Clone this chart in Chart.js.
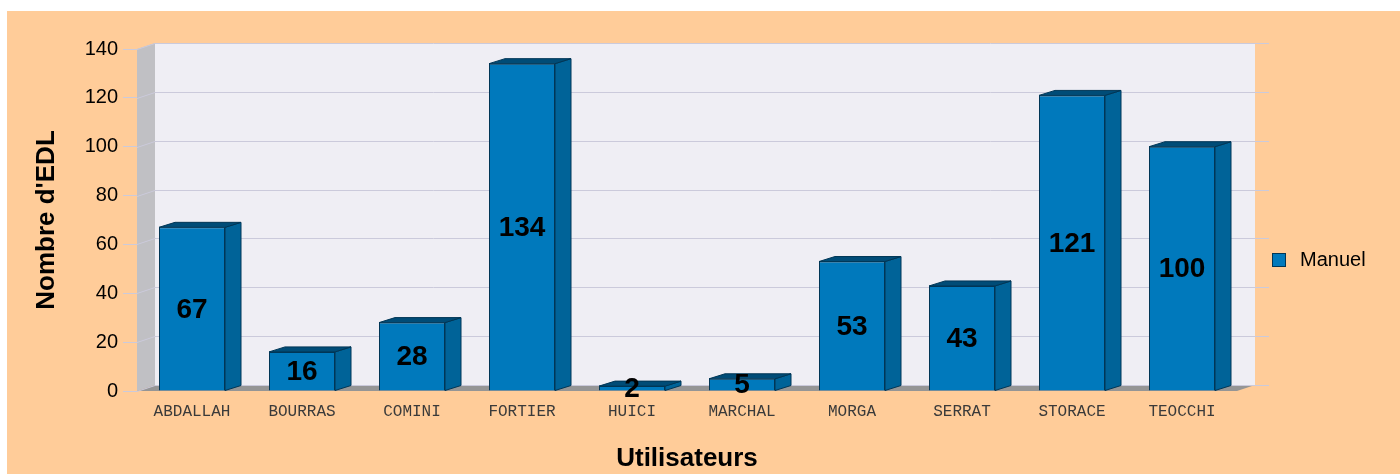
<!DOCTYPE html>
<html>
<head>
<meta charset="utf-8">
<script src="https://cdn.jsdelivr.net/npm/chart.js@4.4.0/dist/chart.umd.min.js"></script>
<style>
    body { margin: 0; background: #ffffff; }
</style>
</head>
<body>
<canvas id="edl-chart" width="1400" height="474"></canvas>
<script>
const users = ['ABDALLAH', 'BOURRAS', 'COMINI', 'FORTIER', 'HUICI', 'MARCHAL', 'MORGA', 'SERRAT', 'STORACE', 'TEOCCHI'];
const manuel = [67, 16, 28, 134, 2, 5, 53, 43, 121, 100];
const yTicks = [0, 20, 40, 60, 80, 100, 120, 140];

const barFront = '#0079bc';
const barSide = '#006398';
const barTop = '#004c77';
const barEdge = '#003656';

// 3D look: back wall and bars are shifted up-right
const wallDx = 18, wallDy = -6;
const barDx = 16, barDy = -5;

const pseudo3d = {
    id: 'pseudo3d',
    beforeDraw(chart) {
        const ctx = chart.ctx;
        ctx.save();
        ctx.fillStyle = '#ffcc99';
        ctx.fillRect(7, 11, chart.width - 7, chart.height - 11);
        ctx.restore();
    },
    beforeDatasetsDraw(chart) {
        const ctx = chart.ctx;
        const area = chart.chartArea;
        const y = chart.scales.y;
        const top = y.getPixelForValue(140);
        const bottom = y.getPixelForValue(0);
        ctx.save();
        // back wall
        ctx.fillStyle = '#efeef4';
        ctx.fillRect(area.left + wallDx, top + wallDy, area.right - area.left, bottom - top);
        // left side wall
        ctx.fillStyle = '#c0c0c4';
        ctx.beginPath();
        ctx.moveTo(area.left, top);
        ctx.lineTo(area.left + wallDx, top + wallDy);
        ctx.lineTo(area.left + wallDx, bottom + wallDy);
        ctx.lineTo(area.left, bottom);
        ctx.closePath();
        ctx.fill();
        // floor
        ctx.fillStyle = '#959595';
        ctx.beginPath();
        ctx.moveTo(area.left, bottom);
        ctx.lineTo(area.right, bottom);
        ctx.lineTo(area.right + wallDx, bottom + wallDy);
        ctx.lineTo(area.left + wallDx, bottom + wallDy);
        ctx.closePath();
        ctx.fill();
        // grid lines
        ctx.strokeStyle = '#cbcadb';
        ctx.lineWidth = 1;
        yTicks.forEach(v => {
            const py = Math.round(y.getPixelForValue(v)) + 0.5;
            ctx.beginPath();
            ctx.moveTo(area.left, py);
            ctx.lineTo(area.left + wallDx, py + wallDy);
            ctx.lineTo(area.right + wallDx + 14, py + wallDy);
            ctx.stroke();
        });
        ctx.restore();
    },
    afterDatasetsDraw(chart) {
        const ctx = chart.ctx;
        const meta = chart.getDatasetMeta(0);
        ctx.save();
        ctx.lineWidth = 1;
        ctx.strokeStyle = barEdge;
        meta.data.forEach((bar, i) => {
            const p = bar.getProps(['x', 'y', 'base', 'width'], true);
            const xl = p.x - p.width / 2;
            const xr = p.x + p.width / 2;
            // side face
            ctx.fillStyle = barSide;
            ctx.beginPath();
            ctx.moveTo(xr, p.y);
            ctx.lineTo(xr + barDx, p.y + barDy);
            ctx.lineTo(xr + barDx, p.base + barDy);
            ctx.lineTo(xr, p.base);
            ctx.closePath();
            ctx.fill();
            ctx.stroke();
            // top face
            ctx.fillStyle = barTop;
            ctx.beginPath();
            ctx.moveTo(xl, p.y);
            ctx.lineTo(xl + barDx, p.y + barDy);
            ctx.lineTo(xr + barDx, p.y + barDy);
            ctx.lineTo(xr, p.y);
            ctx.closePath();
            ctx.fill();
            ctx.stroke();
        });
        // value labels
        ctx.fillStyle = '#000000';
        ctx.font = 'bold 28px "Liberation Sans", Arial, sans-serif';
        ctx.textAlign = 'center';
        ctx.textBaseline = 'middle';
        meta.data.forEach((bar, i) => {
            const p = bar.getProps(['x', 'y', 'base'], true);
            ctx.fillText(String(manuel[i]), p.x, (p.y + p.base) / 2 + 1);
        });
        ctx.restore();
    },
    afterDraw(chart) {
        // legend
        const ctx = chart.ctx;
        ctx.save();
        ctx.fillStyle = barFront;
        ctx.fillRect(1272, 253, 13, 13);
        ctx.strokeStyle = barEdge;
        ctx.lineWidth = 1;
        ctx.strokeRect(1272.5, 253.5, 13, 13);
        ctx.fillStyle = '#000000';
        ctx.font = '20px "Liberation Sans", Arial, sans-serif';
        ctx.textAlign = 'left';
        ctx.textBaseline = 'middle';
        ctx.fillText(chart.data.datasets[0].label, 1300, 260);
        ctx.restore();
    }
};

new Chart(document.getElementById('edl-chart').getContext('2d'), {
    type: 'bar',
    data: {
        labels: users,
        datasets: [{
            label: 'Manuel',
            data: manuel,
            backgroundColor: barFront,
            borderColor: barEdge,
            borderWidth: 1,
            barPercentage: 0.6,
            categoryPercentage: 1.0
        }]
    },
    options: {
        responsive: false,
        animation: false,
        layout: {
            padding: { top: 49, right: 163, left: 0, bottom: 0 }
        },
        plugins: {
            legend: { display: false },
            tooltip: { enabled: false }
        },
        scales: {
            x: {
                grid: { display: false, drawTicks: false },
                border: { display: false },
                ticks: {
                    color: '#3a3a3a',
                    padding: 11,
                    maxRotation: 0,
                    font: { family: '"Liberation Mono", "Courier New", monospace', size: 16 }
                },
                title: {
                    display: true,
                    text: 'Utilisateurs',
                    color: '#000000',
                    padding: { top: 0, bottom: 0 },
                    font: { family: '"Liberation Sans", Arial, sans-serif', size: 26, weight: 'bold' }
                },
                afterFit(scale) { scale.height = 83; }
            },
            y: {
                min: 0,
                max: 140,
                ticks: {
                    stepSize: 20,
                    color: '#000000',
                    padding: 5,
                    font: { family: '"Liberation Sans", Arial, sans-serif', size: 20 }
                },
                grid: {
                    drawOnChartArea: false,
                    tickLength: 14,
                    color: '#cbcadb'
                },
                border: { display: false },
                title: {
                    display: true,
                    text: "Nombre d'EDL",
                    color: '#000000',
                    padding: { top: 31, bottom: 0 },
                    font: { family: '"Liberation Sans", Arial, sans-serif', size: 26, weight: 'bold' }
                },
                afterFit(scale) { scale.width = 137; }
            }
        }
    },
    plugins: [pseudo3d]
});
</script>
</body>
</html>
